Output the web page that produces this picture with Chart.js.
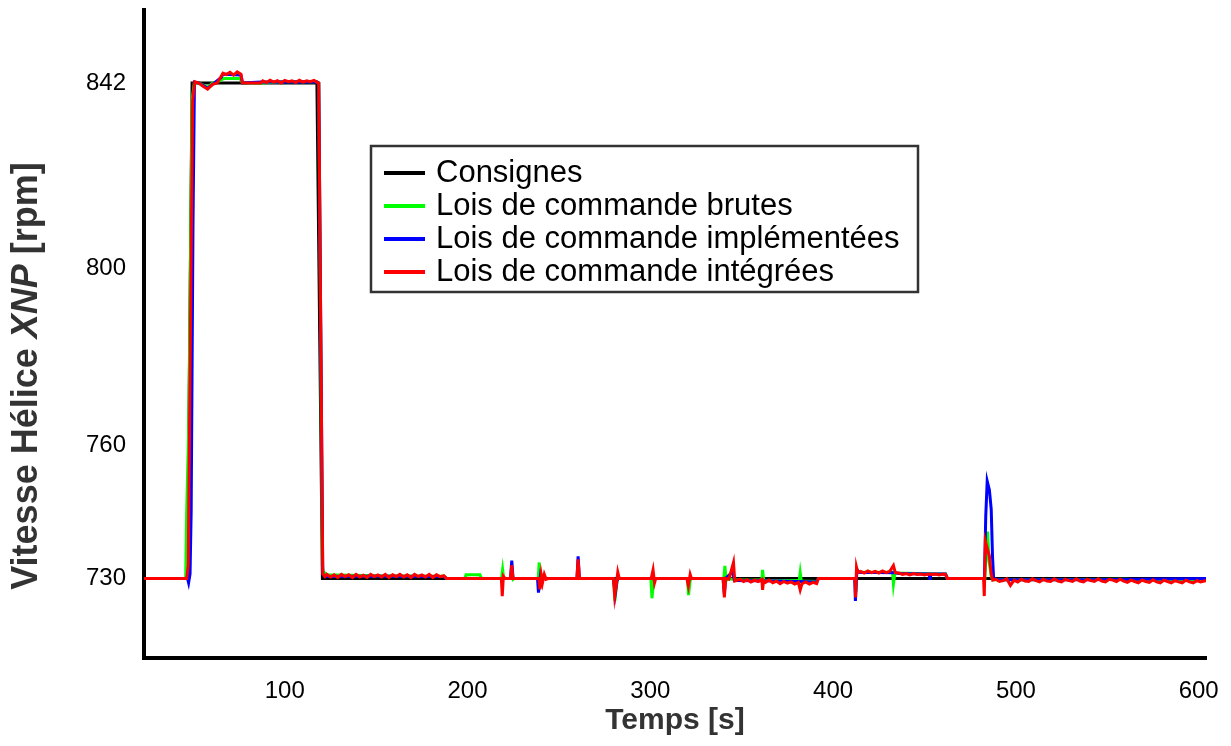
<!DOCTYPE html>
<html>
<head>
<meta charset="utf-8">
<script src="https://cdn.jsdelivr.net/npm/chart.js@4.4.1/dist/chart.umd.min.js"></script>
<style>
html, body { margin: 0; padding: 0; background: #fff; }
</style>
</head>
<body>
<canvas id="myChart" width="1231" height="746"></canvas>
<script>
const xTicks = [100, 200, 300, 400, 500, 600];
const yTicks = [730, 760, 800, 842];
const seriesNames = ['Consignes', 'Lois de commande brutes', 'Lois de commande implémentées', 'Lois de commande intégrées'];
const seriesColors = ['#000000', '#00ff00', '#0000ff', '#ff0000'];

// [temps (s), vitesse (rpm)]
const consignes = [[23,730],[46.8,730],[49.3,842],[117.6,842],[120.6,730],[604,730]];

const brutes = [[23,730],[45.8,730],[46.3,744],[47.5,765],[49.3,838],[50.5,842],[53,842],[57.8,841],[60.5,842],[65,842.6],[66.5,843],[75.5,843],[76.9,842],[87,842],[100,842.3],[117.5,842.3],[118.6,842],[120.6,733],[121,731.6],[123,730.8],[150,730.6],[187,730.5],[188.5,730],
  [198.5,730],[199.2,730.8],[206.8,730.8],[207.5,730],
  [218.6,730],[219.2,732],[219.8,730],
  [223.8,730],[224.3,731.8],[225,729.8],[225.6,730],
  [238.7,730],[239.2,733.6],[239.8,729],[241,730.5],[242,730],
  [260,730],[260.4,731.5],[261,730],
  [280,730],[280.6,724.9],[281.8,729.5],[282.5,730],
  [300.3,730],[300.9,725.5],[301.8,729.6],[302.5,730],
  [320.3,730],[320.9,726.2],[321.8,729.5],[322.5,730],
  [340.2,730],[340.8,732.8],[341.5,729.5],[343,729.9],[347,729.7],[355,729.6],[361,729.7],[361.4,731.9],[362,729.6],[370,729.5],[381.5,729.6],[382,731.3],[382.6,729.4],[391,729.3],[392,730],
  [412,730],[412.5,727],[413,732],[414,731.4],[432.5,731.4],[433,728.7],[433.8,731.2],[446,731.1],[461.5,731],[462.5,730],
  [483,730],[483.8,736],[484.5,740.6],[485.3,734],[486.5,730.5],[487.5,729.7],[520,729.7],[560,729.8],[575,729.6],[604,729.7]];

const implementees = [[23,730],[46.8,730],[47.4,729],[48.2,731],[48.8,745],[49.8,810],[50.6,842.2],[53,842],[57.8,840.8],[60.5,841.7],[65.1,843.2],[66.2,844],[76,843.8],[76.9,842],[87,842.2],[117.5,842.3],[118.6,842],[120.8,731],[122,730.4],[150,730.5],[187,730.4],[188.5,730],
  [223.5,730],[224.2,734],[224.9,730],
  [238.3,730],[238.8,726.8],[240,731],[241,730],
  [259.9,730],[260.5,735],[261.2,730],
  [279.8,730],[280.8,726.5],[281.8,729.5],[282.5,730],
  [339.8,730],[340.5,726.5],[341.2,730],[345,731.5],[346,729.5],[370,729.4],[391,729.2],[392,730],
  [411.8,730],[412.2,724.9],[413,732],[414,731.4],[434,731.3],[436,731.1],[452.5,731],[453,729.7],[453.5,731],[461.5,731],[462.5,730],
  [482.8,730],[483.5,744],[484.3,752],[485.5,750],[486.5,745.6],[487.2,735],[487.8,730],[490,729.7],[540,729.7],[604,730]];

const integrees = [[23,730],[46.4,730],[47.2,733],[49.6,838],[50.8,842.3],[53,842],[55.5,841.2],[57.8,840.6],[60.5,841.7],[63,842],[65.1,843.4],[66.2,844.2],[68,843.9],[70,844.4],[72,843.8],[74,844.5],[76,844],[76.9,842],[86.9,842],
  [88,842.5],[90,842.1],[92,842.6],[94,842.2],[96,842.5],[98,842.0],[100,842.6],[102,842.3],[104,842.5],[106,842.1],[108,842.6],[110,842.2],[112,842.5],[114,842.3],[116,842.6],[117.5,842.2],
  [118.6,842],[120.8,731],[122,730.4],
  [123,730.9],[125,730.3],[127,730.8],[129,730.2],[131,730.9],[133,730.4],[135,730.8],[137,730.2],[139,730.9],[141,730.3],[143,730.7],[145,730.2],[147,730.9],[149,730.4],[151,730.8],[153,730.3],[155,730.9],[157,730.2],[159,730.8],[161,730.4],[163,730.9],[165,730.3],[167,730.8],[169,730.2],[171,730.9],[173,730.4],[175,730.8],[177,730.3],[179,730.9],[181,730.2],[183,730.8],[185,730.4],[187,730.6],[188.5,730],
  [218.5,730],[219,726],[219.6,730.5],[220.5,730],
  [223.5,730],[224.2,733],[224.8,730],
  [239,730],[239.6,727.5],[240.3,730.8],[241,729],[242,730.9],[243,729.8],[244.5,730],
  [259.8,730],[260.5,734.3],[261.2,730],
  [279.8,730],[280.5,726],[281.5,729],[282.2,731.4],[283,730],
  [300.5,730],[301.5,731.9],[302.3,729],[303,730],
  [320,730],[320.8,728.3],[321.8,730.9],[322.5,730],
  [339.8,730],[340.5,725.7],[341.2,730],[343,729.8],[345.5,733.6],[346.2,729.4],
  [347,729.5],[349,729.8],[351,729.3],[353,729.7],[355,729.2],[357,729.6],[359,729.3],[361,729.8],[361.4,727.4],[362,729.5],[363,729.1],[365,729.6],[367,729.0],[369,729.4],[371,728.8],[373,729.3],[375,728.9],[377,729.2],[379,728.7],[381,729.1],[382,727.4],[383,728.8],[385,729.2],[387,728.7],[389,729.1],[391,728.8],[392,730],
  [412,730],[412.3,725.7],[412.8,732.5],[413.5,731.3],[415,731.6],[417,731.2],[419,731.7],[421,731.3],[423,731.6],[425,731.2],[427,731.7],[429,731.3],[431,731.6],[433,732.9],[434,731.3],[436,731.2],[438,730.9],[440,731.1],[442,730.8],[444,731.1],[446,730.9],[448,731.0],[450,730.8],[452,731.0],[454,730.9],[456,731.0],[458,730.8],[460,731.0],[461.5,730.9],[462.5,730],
  [482.3,730],[482.7,726],[483.3,738.4],[484.2,737],[485.5,735],[486.5,731],[487.3,729.6],
  [489,729.8],[491,729.3],[493,729.5],[495,729.9],[497,728.4],[499,729.6],[501,729.2],[503,729.8],[505,729.4],[507,729.3],[509,729.9],[511,729.5],[513,729.2],[515,729.8],[517,729.4],[519,729.3],[521,729.9],[523,729.4],[525,729.2],[527,729.8],[529,729.5],[531,729.3],[533,729.9],[535,729.4],[537,729.2],[539,729.8],[541,729.5],[543,729.3],[545,729.9],[547,729.4],[549,729.2],[551,729.8],[553,729.6],[555,729.3],[557,729.8],[559,729.4],[561,729.1],[563,729.6],[565,729.3],[567,729.0],[569,729.6],[571,729.3],[573,729.1],[575,729.7],[577,729.2],[579,729.0],[581,729.6],[583,729.3],[585,729.0],[587,729.5],[589,729.2],[591,729.0],[593,729.6],[595,729.2],[597,729.0],[599,729.5],[601,729.2],[603,729.4],[604,729.5]];

const allSeries = [consignes, brutes, implementees, integrees];
const FONT = 'Liberation Sans';

const pts = arr => arr.map(p => ({ x: p[0], y: p[1] }));

// titre de l'axe Y avec XNP en italique
const yTitlePlugin = {
    id: 'yTitle',
    afterDraw(chart) {
        const c = chart.ctx;
        const parts = [
            ['Vitesse Hélice ', 'bold'],
            ['XNP', 'italic bold'],
            [' [rpm]', 'bold']
        ];
        c.save();
        c.translate(27, 376);
        c.rotate(-Math.PI / 2);
        c.fillStyle = '#333';
        c.textBaseline = 'middle';
        let total = 0;
        parts.forEach(p => { c.font = p[1] + ' 36px ' + FONT; total += c.measureText(p[0]).width; });
        let x = -total / 2;
        parts.forEach(p => {
            c.font = p[1] + ' 36px ' + FONT;
            c.fillText(p[0], x, 0);
            x += c.measureText(p[0]).width;
        });
        c.restore();
    }
};

// légende encadrée dans la zone du graphe
const boxLegendPlugin = {
    id: 'boxLegend',
    afterDraw(chart) {
        const c = chart.ctx;
        c.save();
        c.fillStyle = '#fff';
        c.strokeStyle = '#333';
        c.lineWidth = 2.5;
        c.fillRect(371, 146, 547, 146);
        c.strokeRect(371, 146, 547, 146);
        chart.data.datasets.forEach((ds, i) => {
            const y = 173 + i * 33;
            c.strokeStyle = ds.borderColor;
            c.lineWidth = 4;
            c.beginPath();
            c.moveTo(384, y);
            c.lineTo(425, y);
            c.stroke();
            c.fillStyle = '#000';
            c.font = '31px ' + FONT;
            c.textBaseline = 'middle';
            c.fillText(ds.label, 436, y);
        });
        c.restore();
    }
};

const ctx = document.querySelector('#myChart').getContext('2d');
const myChart = new Chart(ctx, {
    type: 'line',
    data: {
        datasets: allSeries.map((s, i) => ({
            label: seriesNames[i],
            data: pts(s),
            borderColor: seriesColors[i],
            backgroundColor: seriesColors[i],
            borderWidth: 3,
            pointRadius: 0,
            tension: 0,
            fill: false,
            order: 4 - i
        }))
    },
    options: {
        responsive: false,
        animation: false,
        layout: { padding: { top: 10, right: 25, left: 0, bottom: 0 } },
        plugins: {
            legend: { display: false },
            tooltip: { enabled: false }
        },
        scales: {
            x: {
                type: 'linear',
                min: 23,
                max: 604,
                afterBuildTicks: s => { s.ticks = xTicks.map(v => ({ value: v })); },
                afterFit: s => { s.height = 88; s.paddingLeft = 0; s.paddingRight = 0; },
                grid: { display: false, drawTicks: false },
                border: { display: true, color: '#000', width: 4 },
                ticks: { color: '#000', font: { family: FONT, size: 24 }, padding: 19, maxRotation: 0, autoSkip: false },
                title: {
                    display: true,
                    text: 'Temps [s]',
                    color: '#333',
                    font: { family: FONT, size: 30, weight: 'bold' },
                    padding: { top: 0, bottom: 7 }
                }
            },
            y: {
                type: 'linear',
                min: 712,
                max: 858.5,
                afterBuildTicks: s => { s.ticks = yTicks.map(v => ({ value: v })); },
                afterFit: s => { s.width = 144; s.paddingTop = 0; s.paddingBottom = 0; },
                grid: { display: false, drawTicks: false },
                border: { display: true, color: '#000', width: 4 },
                ticks: { color: '#000', font: { family: FONT, size: 24 }, padding: 18 }
            }
        }
    },
    plugins: [yTitlePlugin, boxLegendPlugin]
});
</script>
</body>
</html>
